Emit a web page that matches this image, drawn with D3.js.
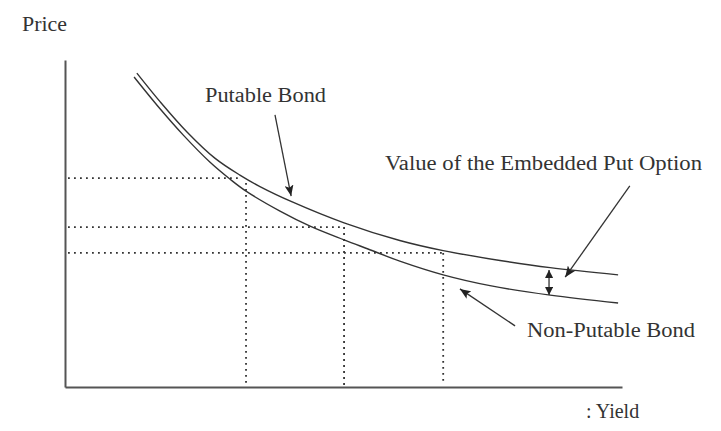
<!DOCTYPE html>
<html>
<head>
<meta charset="utf-8">
<script src="https://cdn.jsdelivr.net/npm/d3@7/dist/d3.min.js"></script>
<style>
  html, body { margin: 0; padding: 0; background: #ffffff; }
  svg { display: block; }
  text { font-family: "Liberation Serif", "Times New Roman", serif; fill: #333; }
</style>
</head>
<body>
<svg id="chart" width="721" height="431"></svg>
<script>
// ---- data (yield in arbitrary units, price in arbitrary units) ----
const putableYield   = [1.29, 1.71, 2.19, 2.69, 3.14, 3.50, 4.08, 5.01, 6.01, 6.79, 7.81, 8.71, 9.93];
const putablePrice   = [96.0, 87.2, 78.0, 70.0, 64.8, 61.3, 56.6, 50.2, 44.8, 41.7, 38.7, 36.5, 34.3];
const nonPutYield    = [1.24, 1.71, 2.12, 2.60, 2.96, 3.25, 3.86, 4.40, 5.01, 5.44, 6.01, 6.79, 7.63, 8.71, 9.93];
const nonPutPrice    = [94.8, 85.0, 77.1, 68.8, 63.6, 59.9, 53.8, 49.2, 45.0, 42.2, 38.5, 34.3, 31.0, 28.1, 25.7];
const guideYields    = [3.25, 5.01, 6.79];
const guidePrices    = [63.9, 48.9, 41.0];
const axisLabels     = ["Price", ": Yield"];
const seriesLabels   = ["Putable Bond", "Value of the Embedded Put Option", "Non-Putable Bond"];

// ---- layout ----
const svg = d3.select("#chart");
const x = d3.scaleLinear().domain([0, 10]).range([65, 622]);
const y = d3.scaleLinear().domain([0, 100]).range([387, 60]);

// defs: arrowheads
const defs = svg.append("defs");
defs.append("marker")
  .attr("id", "head").attr("markerUnits", "userSpaceOnUse")
  .attr("viewBox", "0 0 11 9").attr("refX", 11).attr("refY", 4.5)
  .attr("markerWidth", 11).attr("markerHeight", 9).attr("orient", "auto")
  .append("path").attr("d", "M0,0 L11,4.5 L0,9 L2.5,4.5 Z").attr("fill", "#222");
defs.append("marker")
  .attr("id", "headSmall").attr("markerUnits", "userSpaceOnUse")
  .attr("viewBox", "0 0 8 8").attr("refX", 8).attr("refY", 4)
  .attr("markerWidth", 8).attr("markerHeight", 8).attr("orient", "auto-start-reverse")
  .append("path").attr("d", "M0,0 L8,4 L0,8 Z").attr("fill", "#222");

// axes (lines only, no ticks)
svg.append("g").attr("transform", `translate(0,${y(0)})`)
  .call(d3.axisBottom(x).tickValues([]).tickSizeOuter(0))
  .call(g => g.select(".domain").attr("stroke", "#555").attr("stroke-width", 2));
svg.append("g").attr("transform", `translate(${x(0)},0)`)
  .call(d3.axisLeft(y).tickValues([]).tickSizeOuter(0))
  .call(g => g.select(".domain").attr("stroke", "#555").attr("stroke-width", 2));

// dotted guides
const guides = svg.append("g").attr("stroke", "#333").attr("stroke-width", 1.8)
  .attr("stroke-dasharray", "1.8,4.2").attr("fill", "none");
guideYields.forEach((gy, i) => {
  guides.append("line")
    .attr("x1", x(0) + 3).attr("x2", x(gy) - (i === 0 ? 6 : 0))
    .attr("y1", y(guidePrices[i])).attr("y2", y(guidePrices[i]));
  guides.append("line")
    .attr("x1", x(gy)).attr("x2", x(gy)).attr("y1", y(guidePrices[i]) + (i === 0 ? 5 : 0)).attr("y2", y(0) - 2);
});

// curves
const line = d3.line().x(d => x(d[0])).y(d => y(d[1])).curve(d3.curveCatmullRom.alpha(0.5));
const putable = putableYield.map((v, i) => [v, putablePrice[i]]);
const nonPut = nonPutYield.map((v, i) => [v, nonPutPrice[i]]);
svg.append("path").datum(putable).attr("d", line)
  .attr("fill", "none").attr("stroke", "#333").attr("stroke-width", 1.4);
svg.append("path").datum(nonPut).attr("d", line)
  .attr("fill", "none").attr("stroke", "#333").attr("stroke-width", 1.4);

// annotation arrows (data coordinates)
const arrows = [
  { from: [3.77, 83.2], to: [4.06, 58.4] },
  { from: [10.14, 61.5], to: [8.98, 33.6] },
  { from: [8.08, 18.7], to: [7.09, 30.0] }
];
arrows.forEach(a => {
  svg.append("line")
    .attr("x1", x(a.from[0])).attr("y1", y(a.from[1]))
    .attr("x2", x(a.to[0])).attr("y2", y(a.to[1]))
    .attr("stroke", "#333").attr("stroke-width", 1.3)
    .attr("marker-end", "url(#head)");
});
// double arrow between the curves
svg.append("line")
  .attr("x1", x(8.69)).attr("x2", x(8.69))
  .attr("y1", y(35.8)).attr("y2", y(28.1))
  .attr("stroke", "#333").attr("stroke-width", 1.3)
  .attr("marker-start", "url(#headSmall)").attr("marker-end", "url(#headSmall)");

// text
const fs = 20;
svg.append("text").attr("x", 22).attr("y", 31).attr("font-size", fs)
  .attr("textLength", 45).attr("lengthAdjust", "spacingAndGlyphs").text(axisLabels[0]);
svg.append("text").attr("x", 586).attr("y", 418).attr("font-size", fs)
  .text(axisLabels[1]);
svg.append("text").attr("x", 205).attr("y", 102).attr("font-size", fs)
  .attr("textLength", 121).attr("lengthAdjust", "spacingAndGlyphs").text(seriesLabels[0]);
svg.append("text").attr("x", 385).attr("y", 170).attr("font-size", fs)
  .attr("textLength", 317).attr("lengthAdjust", "spacingAndGlyphs").text(seriesLabels[1]);
svg.append("text").attr("x", 527).attr("y", 337).attr("font-size", fs)
  .attr("textLength", 168).attr("lengthAdjust", "spacingAndGlyphs").text(seriesLabels[2]);
</script>
</body>
</html>
